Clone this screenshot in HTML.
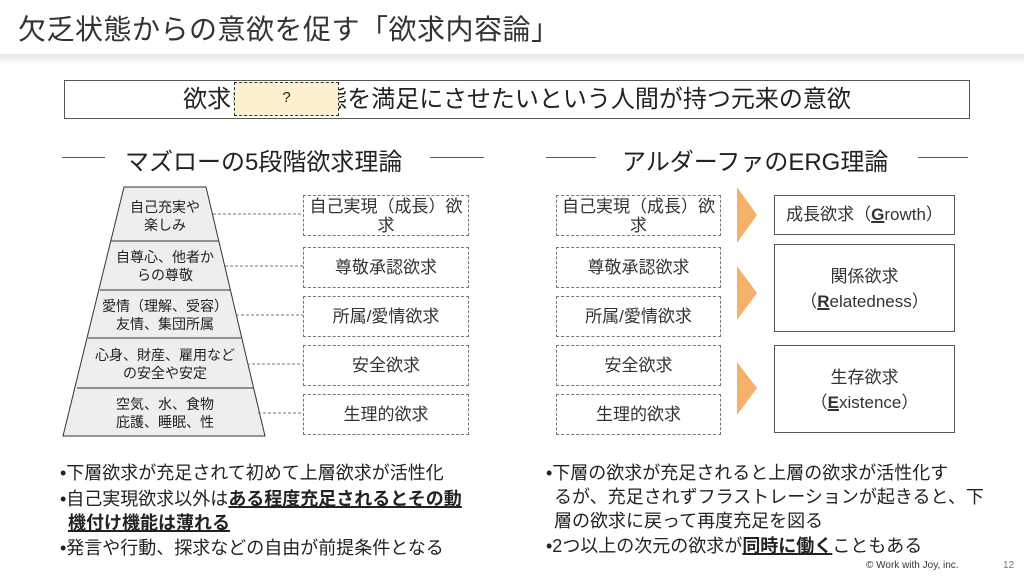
<!DOCTYPE html>
<html><head><meta charset="utf-8"><style>
*{margin:0;padding:0;box-sizing:border-box}
body{width:1024px;height:576px;background:#fff;position:relative;overflow:hidden;font-family:"Liberation Sans","Noto Sans CJK JP",sans-serif;color:#222}
.a{position:absolute}
.title{left:18px;top:8px;font-size:28px;color:#333;white-space:nowrap;letter-spacing:0.5px}
.shadow{left:0;top:54px;width:1024px;height:10px;background:linear-gradient(#e6e6e6,#fff)}
.db{position:absolute;border:1px dashed #777;display:flex;align-items:center;justify-content:center;text-align:center;font-size:17px;line-height:19px;color:#333}
.sb{position:absolute;border:1px solid #555;text-align:center;font-size:17px;line-height:25px;color:#333}
.pl{position:absolute;font-size:14px;line-height:18px;text-align:center;color:#222;white-space:nowrap}
.hl{position:absolute;height:1px;background:#555}
.bl{position:absolute;font-size:18px;color:#222;white-space:nowrap}
u{text-decoration-thickness:2px;font-weight:bold}
</style></head><body>
<div class="a title">欠乏状態からの意欲を促す「欲求内容論」</div>
<div class="a shadow"></div>
<div class="a" style="left:64px;top:80px;width:906px;height:39px;border:1px solid #555;font-size:24px;text-align:center;line-height:37px;color:#222;white-space:nowrap">欲求≒欠乏状態を満足にさせたいという人間が持つ元来の意欲</div>
<div class="a" style="left:234px;top:82px;width:105px;height:34px;background:#fdf0cf;border:1px dashed #333;text-align:center;font-size:15px;line-height:30px">?</div>

<div class="hl" style="left:62px;top:157px;width:43px"></div>
<div class="a" style="left:125px;top:142px;font-size:24px;white-space:nowrap">マズローの5段階欲求理論</div>
<div class="hl" style="left:430px;top:157px;width:54px"></div>
<div class="hl" style="left:546px;top:157px;width:50px"></div>
<div class="a" style="left:622px;top:142px;font-size:24px;white-space:nowrap">アルダーファのERG理論</div>
<div class="hl" style="left:918px;top:157px;width:50px"></div>

<svg class="a" style="left:0;top:0" width="1024" height="576">
<polygon points="124,187 206,187 265,436 63,436" fill="#eeeeee" stroke="#333" stroke-width="1"/>
<g stroke="#333" stroke-width="1">
<line x1="111" y1="241" x2="219" y2="241"/>
<line x1="100" y1="290" x2="230" y2="290"/>
<line x1="88" y1="338" x2="241" y2="338"/>
<line x1="77" y1="388" x2="253" y2="388"/>
</g>
<g stroke="#777" stroke-width="1" stroke-dasharray="3,2">
<line x1="213" y1="214" x2="303" y2="214"/>
<line x1="225" y1="266" x2="303" y2="266"/>
<line x1="236" y1="315" x2="303" y2="315"/>
<line x1="247" y1="364" x2="303" y2="364"/>
<line x1="258" y1="413" x2="303" y2="413"/>
</g>
<g fill="#f5b06a">
<polygon points="737,187 757,215 737,243"/>
<polygon points="737,266 757,293 737,320"/>
<polygon points="737,362 757,388 737,415"/>
</g>
</svg>
<div class="pl" style="left:110px;top:198px;width:110px">自己充実や<br>楽しみ</div>
<div class="pl" style="left:100px;top:248px;width:130px">自尊心、他者か<br>らの尊敬</div>
<div class="pl" style="left:90px;top:297px;width:150px">愛情（理解、受容）<br>友情、集団所属</div>
<div class="pl" style="left:80px;top:346px;width:170px">心身、財産、雇用など<br>の安全や安定</div>
<div class="pl" style="left:80px;top:395px;width:170px">空気、水、食物<br>庇護、睡眠、性</div>

<div class="db" style="left:303px;top:195px;width:166px;height:41px">自己実現（成長）欲<br>求</div>
<div class="db" style="left:303px;top:247px;width:166px;height:41px">尊敬承認欲求</div>
<div class="db" style="left:303px;top:296px;width:166px;height:41px">所属/愛情欲求</div>
<div class="db" style="left:303px;top:345px;width:166px;height:41px">安全欲求</div>
<div class="db" style="left:303px;top:394px;width:166px;height:41px">生理的欲求</div>

<div class="db" style="left:556px;top:195px;width:165px;height:41px">自己実現（成長）欲<br>求</div>
<div class="db" style="left:556px;top:247px;width:165px;height:41px">尊敬承認欲求</div>
<div class="db" style="left:556px;top:296px;width:165px;height:41px">所属/愛情欲求</div>
<div class="db" style="left:556px;top:345px;width:165px;height:41px">安全欲求</div>
<div class="db" style="left:556px;top:394px;width:165px;height:41px">生理的欲求</div>

<div class="sb" style="left:774px;top:195px;width:181px;height:40px;padding-top:6px">成長欲求（<u>G</u>rowth）</div>
<div class="sb" style="left:774px;top:244px;width:181px;height:88px;padding-top:19px">関係欲求<br>（<u>R</u>elatedness）</div>
<div class="sb" style="left:774px;top:345px;width:181px;height:88px;padding-top:19px">生存欲求<br>（<u>E</u>xistence）</div>

<div class="bl" style="left:60px;top:459px">•下層欲求が充足されて初めて上層欲求が活性化</div>
<div class="bl" style="left:60px;top:485px">•自己実現欲求以外は<u>ある程度充足されるとその動</u></div>
<div class="bl" style="left:68px;top:509px"><u>機付け機能は薄れる</u></div>
<div class="bl" style="left:60px;top:534px">•発言や行動、探求などの自由が前提条件となる</div>
<div class="bl" style="left:546px;top:459px">•下層の欲求が充足されると上層の欲求が活性化す</div>
<div class="bl" style="left:554px;top:483px">るが、充足されずフラストレーションが起きると、下</div>
<div class="bl" style="left:554px;top:507px">層の欲求に戻って再度充足を図る</div>
<div class="bl" style="left:546px;top:532px">•2つ以上の次元の欲求が<u>同時に働く</u>こともある</div>

<div class="a" style="left:866px;top:560px;font-size:10px;color:#333;white-space:nowrap">© Work with Joy, inc.</div>
<div class="a" style="left:1003px;top:560px;font-size:10px;color:#777">12</div>
</body></html>
